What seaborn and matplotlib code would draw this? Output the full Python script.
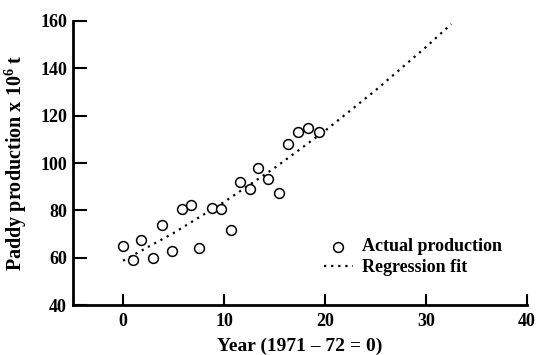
import matplotlib
matplotlib.use("Agg")
import matplotlib.pyplot as plt
import seaborn as sns
import pandas as pd

# Actual production
year = [0.0, 0.96, 1.8, 3.0, 3.9, 4.85, 5.8, 6.7, 7.5, 8.8, 9.75, 10.7,
        11.6, 12.6, 13.4, 14.4, 15.4, 16.3, 17.3, 18.3, 19.4]
production = [65.0, 58.9, 67.4, 59.8, 73.6, 62.7, 80.6, 82.2, 64.0, 81.1, 80.6, 71.9,
              92.1, 89.1, 97.8, 93.1, 87.4, 108.2, 113.1, 114.8, 113.1]

# Regression fit curve
fit_year = [0.0, 5.0, 10.0, 15.0, 20.0, 25.0, 30.0, 32.5]
fit_value = [58.7, 70.4, 83.5, 97.9, 113.6, 130.7, 149.0, 158.7]

xticks = [0, 10, 20, 30, 40]
yticks = [40, 60, 80, 100, 120, 140, 160]

sns.set_theme(style="ticks")
plt.rcParams['font.family'] = ['Liberation Serif', 'DejaVu Serif']
plt.rcParams['font.weight'] = 'bold'
plt.rcParams['text.color'] = 'black'
plt.rcParams['axes.labelcolor'] = 'black'
plt.rcParams['xtick.color'] = 'black'
plt.rcParams['ytick.color'] = 'black'
plt.rcParams['mathtext.fontset'] = 'custom'
plt.rcParams['mathtext.rm'] = 'Liberation Serif:bold'
plt.rcParams['mathtext.bf'] = 'Liberation Serif:bold'

df = pd.DataFrame({"year": year, "production": production})
fit = pd.DataFrame({"year": fit_year, "value": fit_value})

fig = plt.figure(figsize=(5.36, 3.55), dpi=100)
ax = fig.add_axes([72.5/536, 1-305/355, (527-72.5)/536, (305-21)/355])

sns.lineplot(data=fit, x="year", y="value", ax=ax, color="black",
             linestyle=(0, (1, 2.2)), linewidth=1.6, label="Regression fit")
sns.scatterplot(data=df, x="year", y="production", ax=ax, marker="o",
                s=50, facecolor="white", edgecolor="black", linewidth=1.1,
                label="Actual production", zorder=3)

ax.set_xlim(-5, 40)
ax.set_ylim(40, 160)
ax.set_xticks(xticks)
ax.set_yticks(yticks)
ax.tick_params(axis='both', direction='in', width=1.5, labelsize=13,
               colors='black', labelcolor='black')
ax.tick_params(axis='x', length=8, pad=6)
ax.tick_params(axis='y', length=10, pad=4)
for lab in ax.get_xticklabels() + ax.get_yticklabels():
    lab.set_fontweight('bold')
for side in ['top', 'right']:
    ax.spines[side].set_visible(False)
for side in ['left', 'bottom']:
    ax.spines[side].set_linewidth(2)
    ax.spines[side].set_color('black')

ax.set_xlabel("Year (1971 – 72 = 0)", fontsize=14, fontweight='bold',
              labelpad=5, color='black')
ax.set_ylabel(r"Paddy production x 10$^{6}$ t", fontsize=14.5, fontweight='bold',
              labelpad=8, color='black')

handles, labels = ax.get_legend_handles_labels()
order = [labels.index("Actual production"), labels.index("Regression fit")]
leg = ax.legend([handles[i] for i in order], [labels[i] for i in order],
                loc='lower right', bbox_to_anchor=(0.98, 0.045), frameon=False,
                handlelength=1.6, handletextpad=0.5, labelspacing=0.2,
                prop={'weight': 'bold', 'size': 13})
for t in leg.get_texts():
    t.set_color('black')

fig.savefig("out.png", dpi=100)
